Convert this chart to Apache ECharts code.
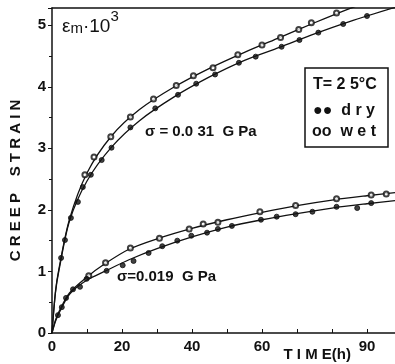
<!DOCTYPE html>
<html>
<head>
<meta charset="utf-8" />
<style>
  html, body { margin: 0; padding: 0; background: #fff; }
  #chart { width: 395px; height: 364px; }
</style>
<script src="https://cdn.jsdelivr.net/npm/echarts@6/dist/echarts.min.js"></script>
</head>
<body>
<div id="chart"></div>
<script>
// x tick labels shown on the time axis
var xTickLabels = [0, 20, 40, 60, 90];
var yTickLabels = [0, 1, 2, 3, 4, 5];

// sigma = 0.031 GPa : fitted curves [time, strain]
var curve031Wet = [[0, 0], [1, 0.68], [2, 1.05], [5, 1.85], [10, 2.6], [17, 3.2], [25, 3.63], [35, 4.0], [45, 4.3], [55, 4.56], [65, 4.8], [75, 5.04], [85, 5.27], [90, 5.37]];
var curve031Dry = [[0, 0], [1, 0.66], [2, 1.02], [5, 1.82], [10, 2.47], [17, 3.02], [25, 3.45], [35, 3.84], [45, 4.16], [55, 4.43], [65, 4.64], [75, 4.86], [85, 5.06], [98, 5.29]];
// sigma = 0.031 GPa : measured points
var pts031Wet = [[9.4, 2.57], [12, 2.86], [16.8, 3.19], [22.4, 3.51], [29, 3.8], [35.5, 4.02], [40.4, 4.18], [46, 4.31], [53.1, 4.52], [60, 4.68], [65.3, 4.8], [70.5, 4.93], [74.1, 5.04], [81.3, 5.2]];
var pts031Dry = [[2.6, 1.22], [3.7, 1.51], [5.4, 1.87], [7.4, 2.13], [8.8, 2.37], [11.1, 2.57], [14.2, 2.81], [17, 3.01], [22.4, 3.34], [29.5, 3.65], [36, 3.87], [41.2, 4.05], [46.6, 4.2], [53.4, 4.39], [58.2, 4.49], [65.6, 4.65], [70.7, 4.76], [76.1, 4.88], [83.2, 5.02], [90, 5.15]];

// sigma = 0.019 GPa : fitted curves
var curve019Wet = [[0, 0], [1, 0.21], [2, 0.35], [5, 0.65], [10, 0.91], [15, 1.12], [22, 1.36], [30, 1.53], [40, 1.7], [50, 1.84], [60, 1.96], [70, 2.07], [80, 2.16], [90, 2.23], [98, 2.28]];
var curve019Dry = [[0, 0], [1, 0.19], [2, 0.32], [5, 0.63], [10, 0.86], [15, 1.0], [22, 1.19], [30, 1.37], [40, 1.56], [50, 1.72], [60, 1.84], [70, 1.94], [80, 2.03], [90, 2.1], [98, 2.15]];
// sigma = 0.019 GPa : measured points
var pts019Wet = [[10.5, 0.93], [15.3, 1.14], [22.4, 1.38], [30.7, 1.54], [39.2, 1.69], [43.2, 1.77], [47.4, 1.8], [59.4, 1.97], [69.6, 2.07], [81.3, 2.18], [91.2, 2.24], [95.5, 2.26]];
var pts019Dry = [[1.7, 0.29], [2.8, 0.42], [4, 0.57], [6, 0.71], [8, 0.75], [9.9, 0.88], [15.6, 1.01], [20.2, 1.1], [23.3, 1.17], [27.6, 1.3], [31.5, 1.41], [35.8, 1.5], [39.8, 1.58], [44.3, 1.63], [47.4, 1.69], [51.4, 1.74], [59.7, 1.84], [64.2, 1.89], [69.6, 1.93], [74.4, 1.97], [81.3, 2.05], [87.2, 2.03], [91.2, 2.11]];

var myChart = echarts.init(document.getElementById("chart"));
var font = "Liberation Sans, Arial, sans-serif";
var ink = "#111";

function curve(data) {
  return {
    type: "line",
    data: data,
    smooth: 0.3,
    showSymbol: false,
    silent: true,
    lineStyle: { color: ink, width: 1.3 },
  };
}
function dots(data, filled) {
  return {
    type: "scatter",
    data: data,
    symbol: filled ? "circle" : "emptyCircle",
    symbolSize: 5,
    z: 3,
    itemStyle: { color: ink, borderColor: ink, borderWidth: 1 },
  };
}

var option = {
  animation: false,
  backgroundColor: "#fff",
  textStyle: { fontFamily: font },
  grid: { left: 51, right: 0, top: 8, bottom: 31, containLabel: false },
  xAxis: [
    {
      type: "value",
      min: 0,
      max: 98,
      interval: 10,
      name: "T I M E(h)",
      nameLocation: "end",
      nameGap: 0,
      nameTextStyle: {
        color: ink,
        fontSize: 15,
        fontWeight: "bold",
        align: "right",
        verticalAlign: "top",
        padding: [14, 44, 0, 0],
      },
      axisLine: { lineStyle: { color: ink, width: 1.5 } },
      axisTick: { show: true, inside: true, length: 4, lineStyle: { color: ink } },
      splitLine: { show: false },
      axisLabel: {
        color: ink,
        fontSize: 15,
        fontWeight: "bold",
        margin: 6,
        showMaxLabel: false,
        formatter: function (value) {
          return xTickLabels.indexOf(value) >= 0 ? value + "" : "";
        },
      },
    },
    {
      // top frame line only
      type: "value",
      position: "top",
      min: 0,
      max: 98,
      axisLine: { show: true, lineStyle: { color: ink, width: 1.5 } },
      axisTick: { show: false },
      axisLabel: { show: false },
      splitLine: { show: false },
    },
  ],
  yAxis: {
    type: "value",
    min: 0,
    max: 5.28,
    interval: 1,
    name: "C R E E P    S T R A I N",
    nameLocation: "middle",
    nameRotate: 90,
    nameGap: 29,
    nameTextStyle: { color: ink, fontSize: 15, fontWeight: "bold", padding: [0, 20, 0, 0] },
    axisLine: { show: true, lineStyle: { color: ink, width: 1.5 } },
    axisTick: { show: true, length: 4, lineStyle: { color: ink } },
    minorTick: { show: true, splitNumber: 2, length: 3, lineStyle: { color: ink } },
    splitLine: { show: false },
    axisLabel: {
      color: ink,
      fontSize: 15,
      fontWeight: "bold",
      margin: 6,
      showMaxLabel: false,
      formatter: function (value) {
        return yTickLabels.indexOf(value) >= 0 ? value + "" : "";
      },
    },
  },
  graphic: [
    {
      type: "text",
      left: 62,
      top: 9,
      style: {
        text: "{e|ε}{s|m}{e|·10}{p|3}",
        rich: {
          e: { fontSize: 19, fontFamily: font, fill: ink, verticalAlign: "bottom" },
          s: { fontSize: 15, fontFamily: font, fill: ink, padding: [12, 0, 0, 0] },
          p: { fontSize: 15, fontFamily: font, fill: ink, padding: [0, 0, 12, 0] },
        },
      },
    },
    {
      type: "text",
      left: 145,
      top: 124,
      style: { text: "σ = 0.0 31  G Pa", font: "bold 15px " + font, fill: ink },
    },
    {
      type: "text",
      left: 117,
      top: 269,
      style: { text: "σ=0.019  G Pa", font: "bold 15px " + font, fill: ink },
    },
    // legend box
    {
      type: "rect",
      shape: { x: 305, y: 68, width: 83, height: 79 },
      style: { fill: "#fff", stroke: ink, lineWidth: 1.5 },
      z: 10,
    },
    {
      type: "text",
      left: 313,
      top: 77,
      z: 11,
      style: { text: "T= 2 5°C", font: "bold 16px " + font, fill: ink },
    },
    {
      type: "text",
      left: 313,
      top: 103,
      z: 11,
      style: { text: "●●  d r y", font: "bold 16px " + font, fill: ink },
    },
    {
      type: "text",
      left: 312,
      top: 124,
      z: 11,
      style: { text: "oo  w e t", font: "bold 16px " + font, fill: ink },
    },
  ],
  series: [
    curve(curve031Wet),
    curve(curve031Dry),
    curve(curve019Wet),
    curve(curve019Dry),
    dots(pts031Wet, false),
    dots(pts031Dry, true),
    dots(pts019Wet, false),
    dots(pts019Dry, true),
  ],
};

option && myChart.setOption(option);
window.addEventListener("resize", function () {
  myChart.resize();
});
</script>
</body>
</html>
